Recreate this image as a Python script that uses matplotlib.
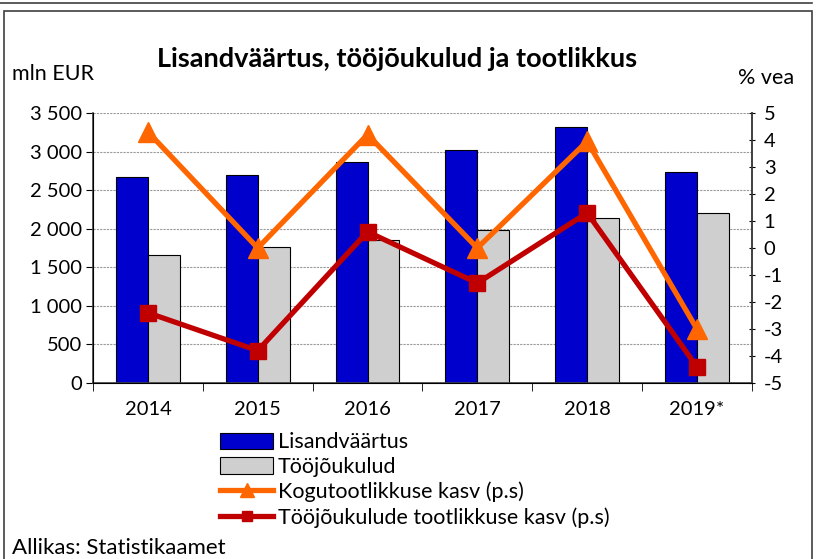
import numpy as np
import matplotlib; matplotlib.use("Agg"); import matplotlib.pyplot as plt
from matplotlib.patches import Rectangle

plt.rcParams["font.family"] = ["Lato", "DejaVu Sans"]
plt.rcParams["axes.unicode_minus"] = False

years = ["2014", "2015", "2016", "2017", "2018", "2019*"]
lisandvaartus = [2670, 2700, 2870, 3020, 3315, 2740]
toojoukulud = [1660, 1760, 1850, 1980, 2135, 2210]
kogutootlikkus = [4.3, 0.0, 4.2, 0.0, 3.95, -3.0]
tj_tootlikkus = [-2.4, -3.8, 0.6, -1.3, 1.3, -4.4]

fig = plt.figure(figsize=(8.19, 5.59), dpi=100)
ax = fig.add_axes([0.1136, 0.3148, 0.8044, 0.4831])
x = np.arange(len(years)); w = 0.29
ax.bar(x - w/2, lisandvaartus, w, color="#0000CC", edgecolor="black", lw=0.8, label="Lisandväärtus", zorder=2)
ax.bar(x + w/2, toojoukulud, w, color="#D0CFD0", edgecolor="black", lw=0.8, label="Tööjõukulud", zorder=2)
ax.set_xlim(-0.5, len(years) - 0.5); ax.set_ylim(0, 3500)
ax.set_yticks(range(0, 3501, 500))
ax.set_yticklabels([f"{v:,}".replace(",", " ") for v in range(0, 3501, 500)], fontsize=14.5)
ax.set_xticks(x); ax.set_xticklabels(years, fontsize=14.5)
ax.set_xticks(np.arange(-0.5, len(years)), minor=True)
ax.tick_params(axis="x", which="major", length=0, pad=13)
ax.tick_params(axis="x", which="minor", length=6, direction="out")
ax.tick_params(axis="y", length=5, direction="out", pad=3)
ax.grid(axis="y", ls=(0, (2, 1)), color="#999999", lw=0.8, zorder=0)
ax.spines["top"].set_visible(False)
for s in ["left", "bottom", "right"]:
    ax.spines[s].set_color("#404040"); ax.spines[s].set_linewidth(1.2)

ax2 = ax.twinx()
ax2.plot(x, kogutootlikkus, "-^", color="#FF6600", lw=3.8, ms=15, label="Kogutootlikkuse kasv (p.s)", zorder=3)
ax2.plot(x, tj_tootlikkus, "-s", color="#C00000", lw=3.8, ms=11, label="Tööjõukulude tootlikkuse kasv (p.s)", zorder=4)
ax2.set_ylim(-5, 5); ax2.set_yticks(range(-5, 6))
ax2.tick_params(axis="y", labelsize=14.5, length=5, direction="inout", pad=6)
ax2.spines["top"].set_visible(False)
ax2.spines["right"].set_color("#404040"); ax2.spines["right"].set_linewidth(1.2)

h1, l1 = ax.get_legend_handles_labels(); h2, l2 = ax2.get_legend_handles_labels()
fig.legend(h1 + h2, l1 + l2, loc="upper left", bbox_to_anchor=(0.255, 0.246), frameon=False,
           fontsize=15.5, handlelength=2.5, handletextpad=0.2, labelspacing=0.22, borderpad=0,
           markerscale=0.65, handleheight=0.8)

fig.text(0.485, 0.895, "Lisandväärtus, tööjõukulud ja tootlikkus", ha="center", va="center", fontsize=19.5, fontweight="bold")
fig.text(0.015, 0.868, "mln EUR", ha="left", va="center", fontsize=15.5)
fig.text(0.97, 0.86, "% vea", ha="right", va="center", fontsize=15.5)
fig.text(0.015, 0.02, "Allikas: Statistikaamet", ha="left", va="center", fontsize=16)
fig.patches.append(Rectangle((0.005, -0.01), 0.987, 0.99, transform=fig.transFigure, fill=False, ec="#404040", lw=1.2))
fig.lines.append(plt.Line2D([0, 0.992], [0.995, 0.995], transform=fig.transFigure, color="#404040", lw=1.2))
fig.savefig("out.png", dpi=100)
